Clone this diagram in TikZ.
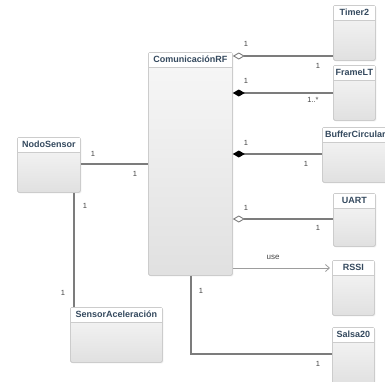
\documentclass[tikz,border=0pt]{standalone}
\usepackage{fontspec}
\setmainfont{Liberation Sans}
\usetikzlibrary{arrows.meta,shadows}
\definecolor{titlecol}{HTML}{34495E}
\definecolor{edgecol}{HTML}{CCCCCC}
\definecolor{linecol}{HTML}{7C7C7C}
\definecolor{labelcol}{HTML}{454545}
\tikzset{
  cls/.style={draw=edgecol, line width=0.8pt, anchor=north west, inner sep=0pt,
    rounded corners=1.5pt, top color=black!3, bottom color=black!12,
    drop shadow={opacity=0.12, shadow xshift=1pt, shadow yshift=-1pt}},
  ttl/.style={font=\fontsize{9}{10}\selectfont\bfseries, text=titlecol, inner sep=0pt, anchor=center},
  sep/.style={draw=edgecol, line width=0.6pt},
  assoc/.style={draw=linecol, line width=1.2pt},
  mult/.style={font=\fontsize{7.5}{8}\selectfont, text=labelcol, inner sep=0pt},
  agg/.style={{Diamond[open, length=12pt, width=7pt, line width=0.9pt]}-},
  comp/.style={{Diamond[length=12pt, width=7pt, color=black, fill=black]}-},
}
% class box: name, left x, top y, width, height, title
\newcommand{\umlclass}[6]{%
  \node[cls, minimum width=#4pt, minimum height=#5pt] (#1) at (#2,#3) {};
  \fill[white] ([xshift=0.7pt,yshift=-0.7pt]#1.north west) rectangle ([xshift=-0.7pt,yshift=-15pt]#1.north east);
  \draw[sep] ([yshift=-15pt]#1.north west) -- ([yshift=-15pt]#1.north east);
  \node[ttl] (#1-title) at ([yshift=-7.5pt]#1.north) {#6};
}
\begin{document}
\begin{tikzpicture}[x=1pt, y=-1pt]
  \clip (0,0) rectangle (385,381);
  \fill[white] (0,0) rectangle (385,381);

  \umlclass{timer}{333}{5}{42}{55}{Timer2}
  \umlclass{frame}{333}{65}{42}{55}{FrameLT}
  \umlclass{com}{148}{52}{84}{223}{ComunicaciónRF}
  \umlclass{buffer}{322}{127}{66}{55}{BufferCircular}
  \umlclass{uart}{333}{193}{42}{53}{UART}
  \umlclass{rssi}{332}{260}{42}{55}{RSSI}
  \umlclass{salsa}{332}{327}{42}{57}{Salsa20}
  \umlclass{nodo}{17}{137}{63}{55}{NodoSensor}
  \umlclass{sensor}{70}{307}{92}{55}{SensorAceleración}

  % heights of the horizontal connectors
  \coordinate (yTimer) at (0,56);
  \coordinate (yFrame) at (0,93);
  \coordinate (yBuffer) at (0,154);
  \coordinate (yUart) at (0,219);
  \coordinate (yRssi) at (0,268);
  \coordinate (yNodo) at (0,164);
  \coordinate (xSalsa) at (191,0);
  \coordinate (ySalsa) at (0,354);
  \coordinate (xNodo) at (74,0);

  \draw[assoc, agg] (com.east |- yTimer) -- (timer.west |- yTimer);
  \draw[assoc, comp] (com.east |- yFrame) -- (frame.west |- yFrame);
  \draw[assoc, comp] (com.east |- yBuffer) -- (buffer.west |- yBuffer);
  \draw[assoc, agg] (com.east |- yUart) -- (uart.west |- yUart);
  \draw[draw=linecol!75, line width=0.8pt, -{Straight Barb[length=4pt, width=7pt]}, shorten >=2pt]
    (com.east |- yRssi) -- (rssi.west |- yRssi);
  \draw[assoc] (xSalsa |- com.south) -- (xSalsa |- ySalsa) -- (salsa.west |- ySalsa);
  \draw[assoc] (nodo.east |- yNodo) -- (com.west |- yNodo);
  \draw[assoc] (xNodo |- nodo.south) -- (xNodo |- sensor.north);

  % multiplicities
  \node[mult] (mTa) at (246,44) {1};
  \node[mult] (mTb) at (318,66) {1};
  \node[mult] (mFa) at (246,81) {1};
  \node[mult] (mFb) at (313,100) {1..*};
  \node[mult] (mBa) at (246,143) {1};
  \node[mult] (mBb) at (306,164) {1};
  \node[mult] (mUa) at (246,208) {1};
  \node[mult] (mUb) at (318,228) {1};
  \node[font=\fontsize{8}{9}\selectfont, text=labelcol, inner sep=0pt] (use) at (273,257) {use};
  \node[mult] (mSa) at (201,291) {1};
  \node[mult] (mSb) at (318,364) {1};
  \node[mult] (mNa) at (93,154) {1};
  \node[mult] (mNb) at (135,174) {1};
  \node[mult] (mVa) at (85,206) {1};
  \node[mult] (mVb) at (63,293) {1};
\end{tikzpicture}
\end{document}
